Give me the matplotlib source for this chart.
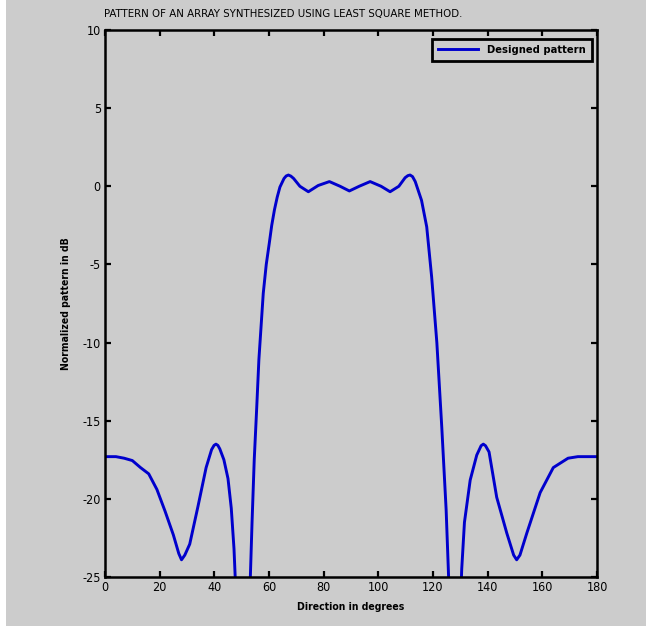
import matplotlib.pyplot as plt
from matplotlib.patches import Rectangle
from matplotlib import font_manager

# direction (deg) and normalized pattern (dB)
direction = [0, 4, 7, 10, 13, 16, 19, 22, 25, 27, 28, 29.2, 31, 34, 37, 39, 39.9,
             40.6, 41.3, 42, 43.5, 45, 46.2, 47.2, 48, 50.5, 53, 53.8, 54.6, 55.5,
             56.3, 57.9, 59, 60.1, 61, 62, 63, 64, 65.5, 66.3, 67.1, 68, 69, 71.3,
             74.4, 78, 82.1, 86, 89.4, 93, 97, 101, 104.3, 107.5, 109.8, 110.8,
             111.6, 112.5, 113.5, 115.8, 117.7, 119.5, 121.4, 123.2, 124.8, 125.6,
             126.3, 128, 130, 130.5, 131.5, 133.6, 136, 137.6, 138.4, 139.2, 140.5,
             143.3, 147, 149.5, 150.6, 151.8, 154.3, 159.2, 164, 169.4, 173, 176, 180]
pattern_db = [-17.3, -17.3, -17.4, -17.55, -18.0, -18.4, -19.4, -20.8, -22.3, -23.5,
              -23.9, -23.6, -22.9, -20.5, -18.0, -16.85, -16.58, -16.5, -16.58,
              -16.8, -17.5, -18.7, -20.6, -23.2, -26.5, -40.0, -26.0, -21.5, -17.5,
              -14.2, -11.1, -6.85, -5.0, -3.65, -2.5, -1.5, -0.7, -0.05, 0.5, 0.66,
              0.72, 0.65, 0.5, 0.0, -0.35, 0.05, 0.3, 0.0, -0.3, 0.0, 0.3, 0.0,
              -0.35, 0.0, 0.55, 0.68, 0.72, 0.62, 0.3, -0.9, -2.6, -5.8, -10.0,
              -15.4, -20.7, -24.5, -28.0, -40.0, -27.0, -24.5, -21.5, -18.8, -17.2,
              -16.6, -16.5, -16.6, -17.0, -19.9, -22.2, -23.6, -23.9, -23.6, -22.2,
              -19.6, -18.0, -17.4, -17.3, -17.3, -17.3]

x_ticks = list(range(0, 181, 20))
y_ticks = list(range(-25, 11, 5))

gray = '#cccccc'
names = {f.name for f in font_manager.fontManager.ttflist}
narrow = 'Liberation Sans Narrow' if 'Liberation Sans Narrow' in names else 'DejaVu Sans'
plt.rcParams['font.family'] = [narrow, 'DejaVu Sans']
plt.rcParams['font.stretch'] = 'condensed'
plt.rcParams['axes.unicode_minus'] = False

fig = plt.figure(figsize=(6.46, 6.26), dpi=100, facecolor=gray)
fig.patches.append(Rectangle((0, 0), 6 / 646, 1, transform=fig.transFigure,
                             facecolor='white', edgecolor='none'))
ax = fig.add_axes([0.1625, 0.0783, 0.7617, 0.8738])
ax.set_facecolor(gray)

ax.plot(direction, pattern_db, color='#0000cc', linewidth=2.1,
        label='Designed pattern', solid_joinstyle='round')

ax.set_xlim(0, 180)
ax.set_ylim(-25, 10)
ax.set_xticks(x_ticks)
ax.set_yticks(y_ticks)
ax.tick_params(direction='in', top=True, right=True, length=4, width=1.6,
               labelsize=9, pad=3)
for s in ax.spines.values():
    s.set_linewidth(1.8)

ax.set_xlabel('Direction in degrees', fontsize=7.5, fontweight='bold', labelpad=6)
ax.set_ylabel('Normalized pattern in dB', fontsize=7.5, fontweight='bold', labelpad=8)
fig.text(283 / 646, 1 - 14 / 626, 'PATTERN OF AN ARRAY SYNTHESIZED USING LEAST SQUARE METHOD.',
         ha='center', va='center', fontsize=8.2)

leg = ax.legend(loc='upper right', bbox_to_anchor=(0.99, 0.984), borderaxespad=0,
                fancybox=False, framealpha=1, edgecolor='black', facecolor=gray,
                handlelength=3.6, borderpad=0.55, prop={'size': 8, 'weight': 'bold'})
leg.get_frame().set_linewidth(2.0)

fig.savefig('out.png', dpi=100, facecolor=gray)
